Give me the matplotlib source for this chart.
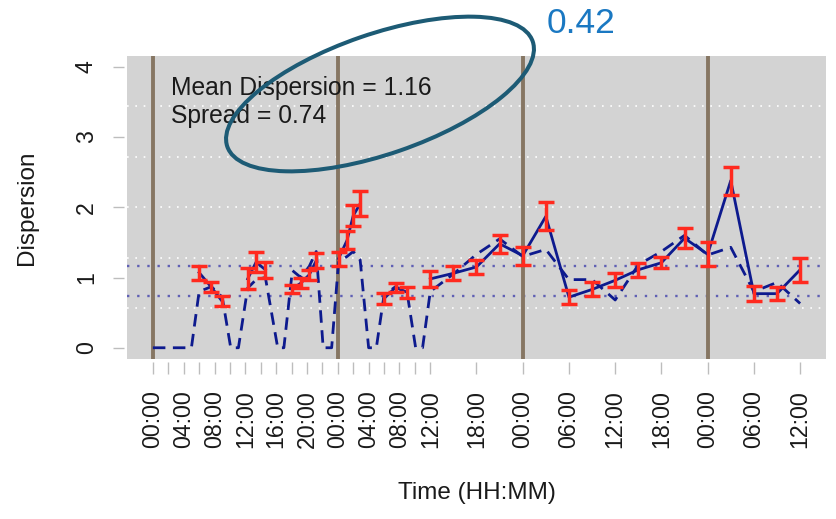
import numpy as np
import matplotlib
matplotlib.use("Agg")
import matplotlib.pyplot as plt
from matplotlib.patches import Ellipse

plt.rcParams['font.family'] = ['Liberation Sans', 'DejaVu Sans']

# hours since the first midnight
hours = [0, 5, 6, 7.6, 9, 10.1, 11.1, 12.3, 13.4, 14.6, 16.2, 17.0,
         18.1, 19.2, 20.3, 21.2, 22.1, 23.2, 24.1, 25.2, 26.0, 26.9, 28.0, 29.0,
         30.0, 31.5, 33.0, 34.1, 35.0, 36, 39, 42, 45, 48, 51, 54, 57, 60,
         63, 66, 69, 72, 75, 78, 81, 84]
nan = np.nan
dispersion = [nan, nan, 1.07, 0.86, 0.66, nan, nan, 0.98, 1.22, 1.11, nan, nan,
              0.84, 0.92, 1.04, 1.24, nan, nan, 1.27, 1.53, 1.88, 2.05, nan, nan,
              0.70, 0.86, 0.79, nan, nan, 0.98, 1.06, 1.15, 1.48, 1.31, 1.87, 0.72,
              0.83, 0.96, 1.11, 1.21, 1.56, 1.33, 2.38, 0.77, 0.77, 1.11]
disp_err = [nan, nan, 0.10, 0.07, 0.07, nan, nan, 0.15, 0.14, 0.11, nan, nan,
            0.06, 0.07, 0.07, 0.11, nan, nan, 0.10, 0.13, 0.15, 0.18, nan, nan,
            0.08, 0.06, 0.08, nan, nan, 0.11, 0.10, 0.10, 0.13, 0.13, 0.20, 0.10,
            0.10, 0.10, 0.10, 0.08, 0.14, 0.17, 0.20, 0.11, 0.09, 0.17]
reference = [0, 0, 0.80, 0.87, 0.72, 0, 0, 0.85, 0.97, 1.00, 0, 0,
             1.10, 1.00, 1.16, 1.37, 0, 0, 1.22, 1.30, 1.37, 1.25, 0, 0,
             0.75, 0.87, 0.78, 0, 0, 0.80, 1.05, 1.33, 1.55, 1.30, 1.40, 0.97,
             0.97, 0.68, 1.18, 1.37, 1.60, 1.32, 1.43, 0.80, 0.93, 0.63]

mean_disp = 1.16
spread = 0.74
midnights = [0, 24, 48, 72]

tick_hours = list(range(0, 38, 2)) + [42, 48, 54, 60, 66, 72, 78, 84]
label_hours = {0: "00:00", 4: "04:00", 8: "08:00", 12: "12:00", 16: "16:00",
               20: "20:00", 24: "00:00", 28: "04:00", 32: "08:00", 36: "12:00",
               42: "18:00", 48: "00:00", 54: "06:00", 60: "12:00", 66: "18:00",
               72: "00:00", 78: "06:00", 84: "12:00"}

W, H = 836, 519
fig = plt.figure(figsize=(W / 100, H / 100), dpi=100)
ax = fig.add_axes([127 / W, 1 - 359 / H, (826 - 127) / W, (359 - 55.5) / H])
ax.set_facecolor('#d3d3d3')
ax.set_xlim(-3.36, 87.36)
ax.set_ylim(-0.16, 4.16)

# white dotted grid, evenly spaced across the plot region
for gy in np.linspace(-0.16, 4.16, 7)[1:-1]:
    ax.axhline(gy, color='white', lw=1.2, ls=(0, (1, 4)), zorder=1)

ax.axhline(mean_disp, color='#6060b4', lw=1.7, ls=(0, (1, 3.3)), zorder=2)
ax.axhline(spread, color='#6060b4', lw=1.7, ls=(0, (1, 3.3)), zorder=2)

for m in midnights:
    ax.axvline(m, color='#867663', lw=2.8, zorder=3)

ax.plot(hours, reference, color='#0d1a8e', lw=2.0, ls=(0, (4.5, 2.7)), zorder=4)
ax.plot(hours, dispersion, color='#0d1a8e', lw=2.0, zorder=5)
ax.errorbar(hours, dispersion, yerr=disp_err, fmt='none', ecolor='#ff2a1f',
            elinewidth=2.5, capsize=6.1, capthick=2.5, zorder=6)

ax.text(2.4, 3.6, "Mean Dispersion = %.2f" % mean_disp, fontsize=17.7,
        va='baseline', color='#1a1a1a')
ax.text(2.4, 3.2, "Spread = %.2f" % spread, fontsize=17.7,
        va='baseline', color='#1a1a1a')

for s in ax.spines.values():
    s.set_visible(False)
ax.spines['left'].set_position(('outward', 2.5))
ax.spines['bottom'].set_position(('outward', 2.5))

ax.set_yticks([0, 1, 2, 3, 4])
ax.set_xticks(tick_hours)
ax.set_xticklabels([label_hours.get(h, "") for h in tick_hours])
ax.tick_params(axis='y', length=8, width=1, color='#bdbdbd', pad=10.5,
               labelsize=16.7, labelcolor='#1a1a1a', labelrotation=90)
ax.tick_params(axis='x', length=8.5, width=1, color='#bdbdbd', pad=11.5,
               labelsize=16.7, labelcolor='#1a1a1a', labelrotation=90)
plt.setp(ax.get_yticklabels(), va='center')

fig.text(27 / W, 1 - 208 / H, "Dispersion", rotation=90, ha='center',
         va='center', fontsize=17.5, color='#1a1a1a')
fig.text(476.5 / W, 1 - 493 / H, "Time (HH:MM)", ha='center', va='center',
         fontsize=17.5, color='#1a1a1a')

ell = Ellipse((3.80, (H - 94) / 100), 3.23, 1.20, angle=19, fill=False,
              edgecolor='#1d5b75', lw=2.9, transform=fig.dpi_scale_trans,
              zorder=10)
fig.add_artist(ell)
fig.text(547 / W, 1 - 33 / H, "0.42", fontsize=25.5, color='#1a78c2',
         va='baseline', ha='left')

fig.savefig("out.png", dpi=100)
